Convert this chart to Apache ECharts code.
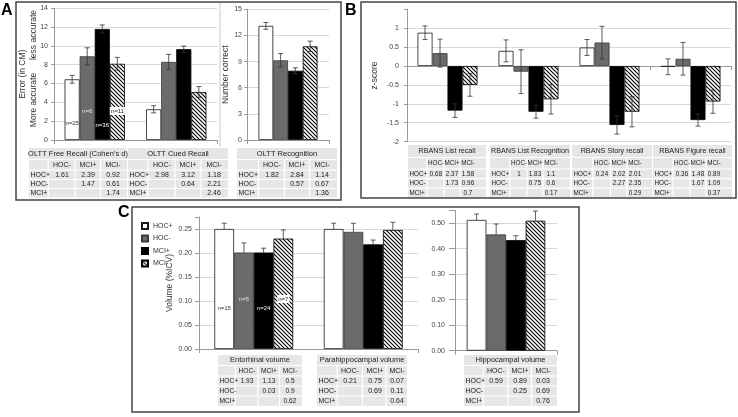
<!DOCTYPE html>
<html><head><meta charset="utf-8">
<script src="https://cdn.jsdelivr.net/npm/echarts@6/dist/echarts.min.js"></script>
<style>html,body{margin:0;padding:0;background:#fff}#c{width:738px;height:417px}</style>
</head><body><div id="c"></div>
<script>
// ---------------- DATA ----------------
const groups = ['HOC+', 'HOC-', 'MCI+', 'MCI-'];
const rowLabels = ['HOC+', 'HOC-', 'MCI+'];
const colLabels = ['HOC-', 'MCI+', 'MCI-'];

// Panel A, left chart: error (in CM)
const catA1 = ['OLTT Free Recall', 'OLTT Cued Recall'];
const a1HocPos = [6.45, 3.26], a1HocPosErr = [0.41, 0.38];
const a1HocNeg = [8.9, 8.3],   a1HocNegErr = [0.9, 0.8];
const a1MciPos = [11.8, 9.65], a1MciPosErr = [0.43, 0.34];
const a1MciNeg = [8.1, 5.1],   a1MciNegErr = [0.68, 0.58];
const a1N = ['n=25', 'n=6', 'n=36', 'n=11'];

// Panel A, right chart: number correct
const catA2 = ['OLTT Recognition'];
const a2HocPos = [13.1],  a2HocPosErr = [0.39];
const a2HocNeg = [9.15],  a2HocNegErr = [0.77];
const a2MciPos = [7.95],  a2MciPosErr = [0.33];
const a2MciNeg = [10.75], a2MciNegErr = [0.6];

// Panel B: z-scores
const catB = ['RBANS List recall', 'RBANS List Recognition', 'RBANS Story recall', 'RBANS Figure recall'];
const bHocPos = [0.88, 0.40, 0.49, -0.02],   bHocPosErr = [0.18, 0.29, 0.21, 0.21];
const bHocNeg = [0.34, -0.15, 0.62, 0.19],   bHocNegErr = [0.37, 0.58, 0.43, 0.43];
const bMciPos = [-1.18, -1.21, -1.56, -1.43], bMciPosErr = [0.18, 0.17, 0.24, 0.16];
const bMciNeg = [-0.50, -0.88, -1.21, -0.94], bMciNegErr = [0.30, 0.39, 0.40, 0.31];

// Panel C, left chart: volume (%ICV)
const catC1 = ['Entorhinal volume', 'Parahippocampal volume'];
const cHocPos = [0.250, 0.250], cHocPosErr = [0.012, 0.012];
const cHocNeg = [0.201, 0.244], cHocNegErr = [0.020, 0.018];
const cMciPos = [0.201, 0.218], cMciPosErr = [0.009, 0.009];
const cMciNeg = [0.230, 0.248], cMciNegErr = [0.018, 0.016];
const cN = ['n=15', 'n=5', 'n=24', 'n=7'];

// Panel C, right chart
const catC2 = ['Hippocampal volume'];
const hHocPos = [0.513], hHocPosErr = [0.023];
const hHocNeg = [0.456], hHocNegErr = [0.041];
const hMciPos = [0.434], hMciPosErr = [0.017];
const hMciNeg = [0.510], hMciNegErr = [0.038];

// Effect-size tables (Cohen's d)
const tA1Title = 'OLTT Free Recall (Cohen\u2019s d)', tA1 = [['1.61','2.39','0.92'],['','1.47','0.61'],['','','1.74']];
const tA2Title = 'OLTT Cued Recall',                tA2 = [['2.98','3.12','1.18'],['','0.64','2.21'],['','','2.46']];
const tA3Title = 'OLTT Recognition',                tA3 = [['1.82','2.84','1.14'],['','0.57','0.67'],['','','1.36']];
const tB1 = [['0.68','2.37','1.58'],['','1.73','0.96'],['','','0.7']];
const tB2 = [['1','1.83','1.1'],['','0.75','0.6'],['','','0.17']];
const tB3 = [['0.24','2.02','2.01'],['','2.27','2.35'],['','','0.29']];
const tB4 = [['0.36','1.48','0.89'],['','1.67','1.09'],['','','0.37']];
const tC1 = [['1.93','1.13','0.5'],['','0.03','0.9'],['','','0.62']];
const tC2 = [['0.21','0.75','0.07'],['','0.69','0.11'],['','','0.64']];
const tC3 = [['0.59','0.89','0.03'],['','0.25','0.69'],['','','0.76']];

// ---------------- STYLE / LAYOUT ----------------
const FONT = 'Liberation Sans, Arial, sans-serif';

function hatch() {
  const c = document.createElement('canvas'); c.width = 4; c.height = 4;
  const g = c.getContext('2d');
  g.fillStyle = '#fff'; g.fillRect(0, 0, 4, 4);
  g.strokeStyle = '#000'; g.lineWidth = 1.1;
  g.beginPath();
  g.moveTo(-1, -1); g.lineTo(5, 5);
  g.moveTo(-1, 3); g.lineTo(1, 5);
  g.moveTo(3, -1); g.lineTo(5, 1);
  g.stroke();
  return c;
}
const barStyles = [
  { color: '#ffffff', borderColor: '#1a1a1a', borderWidth: 0.8 },
  { color: '#6b6b6b', borderColor: '#3a3a3a', borderWidth: 0.8 },
  { color: '#000000', borderColor: '#000000', borderWidth: 0.8 },
  { color: { image: hatch(), repeat: 'repeat' }, borderColor: '#000', borderWidth: 0.8 }
];
const labelColors = ['#333', '#e8e8e8', '#fff', '#222'];

const panels = [
  { cats: catA1, vals: [a1HocPos, a1HocNeg, a1MciPos, a1MciNeg], errs: [a1HocPosErr, a1HocNegErr, a1MciPosErr, a1MciNegErr],
    grid: { left: 54, top: 8.3, width: 163, height: 131.7 }, min: 0, max: 14, interval: 2, gap: '26%', upOnly: false,
    name: 'Error (in CM)', nameGap: 27, labelMargin: 6, n: a1N, nDist: [14, 26, 12, 25], fmt: v => String(v), tickLen: 3 },
  { cats: catA2, vals: [a2HocPos, a2HocNeg, a2MciPos, a2MciNeg], errs: [a2HocPosErr, a2HocNegErr, a2MciPosErr, a2MciNegErr],
    grid: { left: 247, top: 9.3, width: 82, height: 130.7 }, min: 0, max: 15, interval: 3, gap: '28%', upOnly: false,
    name: 'Number correct', nameGap: 13, labelMargin: 5, fmt: v => String(v), tickLen: 3 },
  { cats: catB, vals: [bHocPos, bHocNeg, bMciPos, bMciNeg], errs: [bHocPosErr, bHocNegErr, bMciPosErr, bMciNegErr],
    grid: { left: 407, top: 9.3, width: 324, height: 132.3 }, min: -2, max: 1.5, interval: 0.5, gap: '26%', upOnly: false,
    name: 'z-score', nameGap: 28, labelMargin: 8, fmt: v => (v > 1.2 ? '' : String(v)), hideMax: true, tickLen: 3 },
  { cats: catC1, vals: [cHocPos, cHocNeg, cMciPos, cMciNeg], errs: [cHocPosErr, cHocNegErr, cMciPosErr, cMciNegErr],
    grid: { left: 199, top: 217, width: 219, height: 132 }, min: 0, max: 0.275, interval: 0.05, gap: '28%', upOnly: true,
    name: 'Volume (%ICV)', nameGap: 25, labelMargin: 7, n: cN, nDist: [38, 47, 38, 46],
    fmt: v => (v > 0.26 ? '' : v.toFixed(2)), hideMax: true, tickLen: 4 },
  { cats: catC2, vals: [hHocPos, hHocNeg, hMciPos, hMciNeg], errs: [hHocPosErr, hHocNegErr, hMciPosErr, hMciNegErr],
    grid: { left: 455, top: 210.5, width: 102, height: 140.2 }, min: 0, max: 0.55, interval: 0.1, gap: '23%', upOnly: true,
    name: '', nameGap: 0, labelMargin: 10, fmt: v => (v > 0.52 ? '' : v.toFixed(2)), hideMax: true, tickLen: 6 }
];

const grids = [], xAxes = [], yAxes = [], series = [];
panels.forEach((p, gi) => {
  grids.push(Object.assign({ containLabel: false }, p.grid));
  xAxes.push({
    type: 'category', gridIndex: gi, data: p.cats,
    axisLabel: { show: false },
    axisTick: { show: true, length: 4, lineStyle: { color: '#999' } },
    axisLine: { lineStyle: { color: '#999', width: 1 } },
    splitLine: { show: false }
  });
  yAxes.push({
    type: 'value', gridIndex: gi, min: p.min, max: p.max, interval: p.interval,
    name: p.name, nameLocation: 'middle', nameGap: p.nameGap,
    nameTextStyle: { fontSize: 8.5, color: '#333', fontFamily: FONT },
    axisLine: { show: true, lineStyle: { color: '#999' } },
    axisTick: { show: true, length: p.tickLen, lineStyle: { color: '#999' } },
    axisLabel: { fontSize: 7, color: '#444', margin: p.labelMargin, formatter: p.fmt, fontFamily: FONT },
    splitLine: { show: true, showMaxLine: !p.hideMax, lineStyle: { color: '#d9d9d9', width: 1 } }
  });
  groups.forEach((g, k) => {
    const data = p.vals[k].map((v, j) => {
      if (p.n && j === 0) {
        return {
          value: v,
          label: {
            show: true, formatter: p.n[k], position: 'insideBottom', distance: p.nDist[k],
            fontSize: 6, color: labelColors[k], fontFamily: FONT,
            backgroundColor: k === 3 ? '#fff' : 'transparent', padding: k === 3 ? [1, 1] : 0
          }
        };
      }
      return v;
    });
    series.push({
      type: 'bar', name: g, xAxisIndex: gi, yAxisIndex: gi, data: data,
      barGap: '0%', barCategoryGap: p.gap, itemStyle: barStyles[k],
      emphasis: { disabled: true }, silent: true, z: 2
    });
  });
  const errData = [];
  groups.forEach((g, k) => p.vals[k].forEach((v, j) => errData.push([j, v, p.errs[k][j], k])));
  const gapFrac = parseFloat(p.gap) / 100;
  const upOnly = p.upOnly;
  series.push({
    type: 'custom', xAxisIndex: gi, yAxisIndex: gi, z: 5, silent: true, data: errData,
    encode: { x: 0, y: 1 },
    renderItem: function (params, api) {
      const cat = api.value(0), v = api.value(1), e = api.value(2), k = api.value(3);
      const band = api.size([1, 0])[0];
      const bw = band * (1 - gapFrac) / 4;
      const cx = api.coord([cat, v])[0] + (k - 1.5) * bw;
      const yTop = api.coord([cat, v + e])[1];
      const yBot = api.coord([cat, upOnly ? v : v - e])[1];
      const cap = 2.5;
      const st = { stroke: '#333', lineWidth: 0.8 };
      const ch = [
        { type: 'line', shape: { x1: cx, y1: yTop, x2: cx, y2: yBot }, style: st },
        { type: 'line', shape: { x1: cx - cap, y1: yTop, x2: cx + cap, y2: yTop }, style: st }
      ];
      if (!upOnly) ch.push({ type: 'line', shape: { x1: cx - cap, y1: yBot, x2: cx + cap, y2: yBot }, style: st });
      return { type: 'group', children: ch };
    }
  });
});

// ---------------- TABLES (graphic) ----------------
const rowsA = [148, 159.5, 170, 179.5, 188.5, 197.5];
const rowsB = [145, 157.5, 169, 178.7, 188.2, 197.5];
const rowsC = [355, 365.5, 376, 386, 396, 406];
const tableDefs = [
  { title: tA1Title, d: tA1, x: 29,  w: 98,  cols: [33, 59, 84], rows: rowsA, ts: 7.5, fs: 7 },
  { title: tA2Title, d: tA2, x: 128, w: 100, cols: [34, 60, 86], rows: rowsA, ts: 7.5, fs: 7 },
  { title: tA3Title, d: tA3, x: 237, w: 100, cols: [35, 60, 85], rows: rowsA, ts: 7.5, fs: 7 },
  { title: catB[0], d: tB1, x: 408, w: 78, cols: [28, 44, 60], rows: rowsB, ts: 7.2, fs: 6.3 },
  { title: catB[1], d: tB2, x: 490, w: 80, cols: [29, 45, 61], rows: rowsB, ts: 7.2, fs: 6.3 },
  { title: catB[2], d: tB3, x: 572, w: 80, cols: [30, 47, 63], rows: rowsB, ts: 7.2, fs: 6.3 },
  { title: catB[3], d: tB4, x: 653, w: 79, cols: [29, 45, 61], rows: rowsB, ts: 7.2, fs: 6.3 },
  { title: catC1[0], d: tC1, x: 218, w: 84, cols: [29, 51, 72], rows: rowsC, ts: 7.5, fs: 6.6 },
  { title: catC1[1], d: tC2, x: 317, w: 90, cols: [33, 58, 80], rows: rowsC, ts: 7.5, fs: 7 },
  { title: catC2[0], d: tC3, x: 464, w: 93, cols: [32, 56, 79], rows: rowsC, ts: 7.5, fs: 7 }
];
const graphics = [];
graphics.push({ type: 'rect', shape: { x: 16, y: 2, width: 325, height: 198 }, style: { fill: 'none', stroke: '#444', lineWidth: 1.5 }, z: 100 });
graphics.push({ type: 'rect', shape: { x: 361, y: 2, width: 375, height: 196 }, style: { fill: 'none', stroke: '#444', lineWidth: 1.5 }, z: 100 });
graphics.push({ type: 'rect', shape: { x: 132, y: 207, width: 447, height: 205 }, style: { fill: 'none', stroke: '#444', lineWidth: 1.5 }, z: 100 });
graphics.push({ type: 'line', shape: { x1: 220, y1: 3, x2: 220, y2: 147 }, style: { stroke: '#c8c8c8', lineWidth: 1 }, z: 100 });
[['A', 1, 3], ['B', 345, 3], ['C', 118, 205]].forEach(([t, x, y]) => graphics.push({
  type: 'text', x: x, y: y, z: 100,
  style: { text: t, font: 'bold 16px ' + FONT, fill: '#000' }
}));
graphics.push({ type: 'text', x: 34, y: 35, rotation: Math.PI / 2, z: 100,
  style: { text: 'less accurate', font: '8.5px ' + FONT, fill: '#333', textAlign: 'center', textVerticalAlign: 'middle' } });
graphics.push({ type: 'text', x: 34, y: 100, rotation: Math.PI / 2, z: 100,
  style: { text: 'More accurate', font: '8.5px ' + FONT, fill: '#333', textAlign: 'center', textVerticalAlign: 'middle' } });

tableDefs.forEach(t => {
  const r = t.rows;
  const x0 = t.x, x1 = t.x + t.w;
  const tf = t.fs + 'px ' + FONT;
  graphics.push({ type: 'rect', z: 90, shape: { x: x0, y: r[0], width: t.w, height: r[5] - r[0] }, style: { fill: '#e6e6e6' } });
  for (let i = 1; i < 5; i++) {
    graphics.push({ type: 'line', z: 91, shape: { x1: x0, y1: r[i], x2: x1, y2: r[i] }, style: { stroke: '#fff', lineWidth: 1.2 } });
  }
  const c = t.cols, sp = (c[2] - c[0]) / 2;
  const seps = [c[0] - sp / 2 - 1, (c[0] + c[1]) / 2, (c[1] + c[2]) / 2];
  seps.forEach(s => graphics.push({ type: 'line', z: 91, shape: { x1: x0 + s, y1: r[1], x2: x0 + s, y2: r[5] }, style: { stroke: '#fff', lineWidth: 1.2 } }));
  graphics.push({ type: 'text', z: 92, x: (x0 + x1) / 2, y: (r[0] + r[1]) / 2,
    style: { text: t.title, font: t.ts + 'px ' + FONT, fill: '#222', textAlign: 'center', textVerticalAlign: 'middle' } });
  colLabels.forEach((cl, j) => graphics.push({ type: 'text', z: 92, x: x0 + c[j], y: (r[1] + r[2]) / 2,
    style: { text: cl, font: tf, fill: '#222', textAlign: 'center', textVerticalAlign: 'middle' } }));
  rowLabels.forEach((rl, i) => {
    const yc = (r[i + 2] + r[i + 3]) / 2;
    graphics.push({ type: 'text', z: 92, x: x0 + 1.5, y: yc,
      style: { text: rl, font: tf, fill: '#222', textAlign: 'left', textVerticalAlign: 'middle' } });
    t.d[i].forEach((val, j) => {
      if (val !== '') graphics.push({ type: 'text', z: 92, x: x0 + c[j], y: yc,
        style: { text: val, font: tf, fill: '#222', textAlign: 'center', textVerticalAlign: 'middle' } });
    });
  });
});

const chart = echarts.init(document.getElementById('c'), null, { renderer: 'canvas' });
chart.setOption({
  animation: false,
  backgroundColor: '#fff',
  textStyle: { fontFamily: FONT },
  grid: grids, xAxis: xAxes, yAxis: yAxes, series: series,
  legend: {
    data: groups, orient: 'vertical', left: 136, top: 217, itemWidth: 6, itemHeight: 6, itemGap: 4.5,
    icon: 'rect', selectedMode: false, textStyle: { fontSize: 7, color: '#333', fontFamily: FONT }
  },
  graphic: graphics
});
</script></body></html>
